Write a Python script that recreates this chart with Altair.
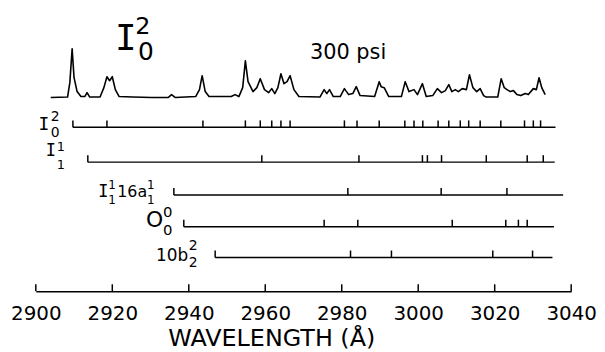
import altair as alt
import pandas as pd

# ---------------- data ----------------
# 300 psi trace: wavelength (Å) and height above its baseline
spec_wl = [2903.9, 2908.3, 2908.9, 2909.5, 2910.0, 2910.8, 2911.8, 2912.8, 2913.4, 2914.1,
           2916.8, 2917.8, 2918.6, 2919.3, 2920.0, 2920.8, 2921.8, 2925.3, 2930.3, 2934.6,
           2935.5, 2936.5, 2941.8, 2942.8, 2943.5, 2944.3, 2945.3, 2951.1, 2952.1, 2953.1,
           2954.1, 2954.8, 2955.5, 2956.8, 2957.8, 2958.7, 2959.8, 2960.9, 2961.7, 2962.5,
           2963.3, 2964.1, 2964.9, 2965.7, 2966.5, 2967.5, 2968.8, 2974.3, 2975.4, 2976.1,
           2976.8, 2977.8, 2979.6, 2980.7, 2981.8, 2982.9, 2983.8, 2984.8, 2988.6, 2989.8,
           2990.3, 2991.1, 2992.3, 2995.6, 2996.6, 2997.6, 2998.9, 2999.8, 3001.1, 3002.1,
           3003.8, 3005.0, 3006.1, 3007.1, 3008.0, 3008.8, 3009.7, 3010.5, 3011.5, 3012.6,
           3013.4, 3014.3, 3015.3, 3016.2, 3017.1, 3017.8, 3020.8, 3021.7, 3022.5, 3023.2,
           3024.1, 3024.9, 3025.8, 3026.8, 3028.0, 3028.8, 3030.1, 3030.9, 3031.6, 3032.3,
           3033.2]
spec_int = [0, 0.5, 15, 49, 20, 6, 1, 1, 5, 0.5,
            0.5, 10, 21, 17, 21, 8, 1, 0.5, 0, 0,
            3, 0, 1, 8, 22, 6, 1, 1, 3, 1,
            10, 37, 16, 6, 10, 19, 8, 5, 9, 4,
            10, 24, 14, 16, 22, 8, 1, 0.5, 8, 4,
            8, 1, 1, 9, 3, 4, 11, 2, 1, 16,
            11, 10, 1, 1, 16, 6, 8, 3, 14, 1,
            2, 9, 5, 7, 13, 6, 8, 6, 9, 8,
            23, 10, 6, 9, 2, 0.5, 0.5, 19, 10, 8,
            6, 7, 3, 2, 4, 3, 9, 8, 20, 10,
            3]

# stick spectra (assignments)
row_names = ["I0^2", "I1^1", "I1^1 16a1^1", "O0^0", "10b2^2"]
row_start = [2909.7, 2913.6, 2936.1, 2938.7, 2946.9]
row_end = [3035.9, 3035.7, 3037.9, 3035.5, 3035.1]
row_lines = [
    [2909.7, 2918.6, 2943.7, 2954.8, 2958.7, 2961.7, 2964.1, 2966.5, 2980.7, 2984.0,
     2989.8, 2996.5, 2998.9, 3001.2, 3005.2, 3008.0, 3011.0, 3013.2, 3016.2, 3021.6,
     3027.8, 3030.1, 3032.0],
    [2913.6, 2959.1, 2984.5, 3001.1, 3002.4, 3006.1, 3017.8, 3028.5, 3032.7],
    [2936.1, 2981.6, 3006.0, 3023.2],
    [2938.7, 2975.4, 2984.2, 3008.9, 3022.9, 3026.2, 3028.5],
    [2946.9, 2982.3, 2993.0, 3019.5, 3029.9],
]

axis_ticks = [2900, 2920, 2940, 2960, 2980, 3000, 3020, 3040]
x_title = "WAVELENGTH (Å)"

# ---------------- layout ----------------
W, H = 539, 282
ROW_LEVEL = [165, 130, 97, 65, 34]
SPEC_BASE = 195
STICK_H = 7
AXIS_TICK_H = 7
OX, OY = 36, 10  # page position of plot origin

spec_df = pd.DataFrame({"wl": spec_wl, "v": [SPEC_BASE + i for i in spec_int]})
seg_df = pd.DataFrame({"name": row_names, "start": row_start, "end": row_end,
                       "level": ROW_LEVEL})
tick_rows = []
for name, lvl, lines in zip(row_names, ROW_LEVEL, row_lines):
    for wl in lines:
        tick_rows.append({"name": name, "wl": wl, "level": lvl, "top": lvl + STICK_H})
tick_df = pd.DataFrame(tick_rows)
axt_df = pd.DataFrame({"wl": axis_ticks, "b": [0] * len(axis_ticks),
                       "t": [AXIS_TICK_H] * len(axis_ticks)})

xs = alt.Scale(domain=[2900, 3040], nice=False, zero=False)
ys = alt.Scale(domain=[0, H], nice=False, zero=False)
x_axis = alt.Axis(values=axis_ticks, format="d", ticks=False, tickSize=0,
                  domain=True, domainColor="black", domainWidth=1.5,
                  labelFont="DejaVu Sans", labelFontSize=20, labelColor="black",
                  labelPadding=12, labelFlush=False, labelOverlap=False, grid=False,
                  title=x_title, titleFont="DejaVu Sans", titleFontSize=24,
                  titleFontWeight="normal", titleColor="black",
                  titleX=237, titleY=55, titleAlign="center",
                  titleBaseline="alphabetic")

spectrum = alt.Chart(spec_df).mark_line(color="black", strokeWidth=1.6,
                                        strokeJoin="round").encode(
    x=alt.X("wl:Q", scale=xs, axis=x_axis),
    y=alt.Y("v:Q", scale=ys, axis=None),
)
segments = alt.Chart(seg_df).mark_rule(color="black", strokeWidth=1.5).encode(
    x=alt.X("start:Q", scale=xs, axis=x_axis),
    x2="end:Q",
    y=alt.Y("level:Q", scale=ys, axis=None),
)
sticks = alt.Chart(tick_df).mark_rule(color="black", strokeWidth=1.5).encode(
    x=alt.X("wl:Q", scale=xs, axis=x_axis),
    y=alt.Y("level:Q", scale=ys, axis=None),
    y2="top:Q",
)
axis_up = alt.Chart(axt_df).mark_rule(color="black", strokeWidth=1.5).encode(
    x=alt.X("wl:Q", scale=xs, axis=x_axis),
    y=alt.Y("b:Q", scale=ys, axis=None),
    y2="t:Q",
)

MONO = "DejaVu Sans Mono"
SANS = "DejaVu Sans"
LABELS = [
    # text, page x, page baseline y, size, font, align
    ("I", 126.5, 49, 36, MONO, "center"),
    ("2", 136, 33, 24, SANS, "left"),
    ("0", 139, 59, 25, SANS, "left"),
    ("300 psi", 312, 58, 21, SANS, "left"),
    ("I", 44, 130, 18, MONO, "center"),
    ("2", 51, 121, 14, SANS, "left"),
    ("0", 51, 137, 14, SANS, "left"),
    ("I", 51, 156, 17, MONO, "center"),
    ("1", 57, 151, 13, SANS, "left"),
    ("1", 57, 169, 13, SANS, "left"),
    ("I", 104, 197, 17, MONO, "center"),
    ("1", 109, 189, 12, SANS, "left"),
    ("1", 109, 204, 12, SANS, "left"),
    ("16a", 118, 197, 16, SANS, "left"),
    ("1", 148, 189, 12, SANS, "left"),
    ("1", 148, 204, 12, SANS, "left"),
    ("O", 147, 227, 22, SANS, "left"),
    ("0", 164, 217, 15, SANS, "left"),
    ("0", 164, 235, 15, SANS, "left"),
    ("10b", 157, 262, 17, SANS, "left"),
    ("2", 190, 250, 14, SANS, "left"),
    ("2", 190, 268, 14, SANS, "left"),
]


def label(text, px, py, size, font, align):
    return alt.Chart(pd.DataFrame({"t": [text]})).mark_text(
        align=align, baseline="alphabetic", fontSize=size, font=font, color="black"
    ).encode(x=alt.value(px - OX), y=alt.value(py - OY), text="t:N")


layers = [spectrum, segments, sticks, axis_up] + [label(*l) for l in LABELS]

chart = alt.layer(*layers).properties(
    width=W, height=H,
    autosize=alt.AutoSizeParams(type="none"),
    padding={"left": 28, "top": 2, "right": 26, "bottom": 62},
    background="white",
).configure_view(stroke=None)

chart.save("out.html", embed_options={"renderer": "svg", "actions": False})
